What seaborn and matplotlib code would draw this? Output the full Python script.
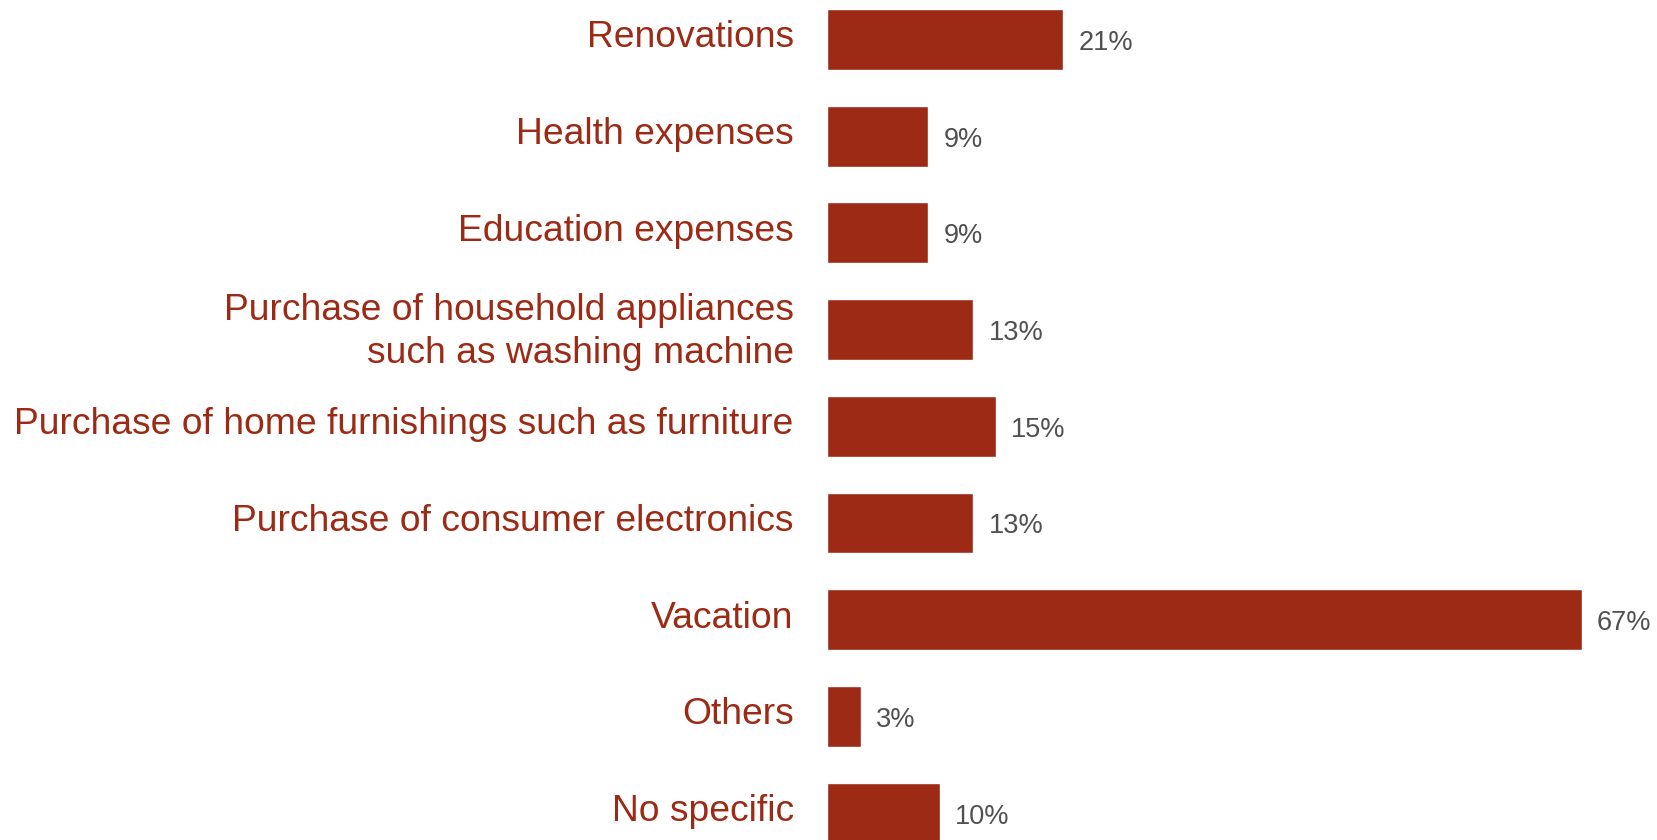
import matplotlib
matplotlib.use("Agg")
import matplotlib.pyplot as plt
import matplotlib.transforms as mtransforms
import seaborn as sns
import pandas as pd

# Chart data
categories = [
    "Renovations",
    "Health expenses",
    "Education expenses",
    "Purchase of household appliances\nsuch as washing machine",
    "Purchase of home furnishings such as furniture",
    "Purchase of consumer electronics",
    "Vacation",
    "Others",
    "No specific",
]
values = [21, 9, 9, 13, 15, 13, 67, 3, 10]

bar_color = "#9C2A14"
value_color = "#505050"

sns.set_style("white")
plt.rcParams["font.family"] = ["Liberation Sans", "DejaVu Sans"]

df = pd.DataFrame({"category": categories, "share": values})

fig = plt.figure(figsize=(16.57, 8.4), dpi=100)
ax = fig.add_axes([827 / 1657, 0, 1 - 827 / 1657, 1])

sns.barplot(data=df, x="share", y="category", color=bar_color,
            saturation=1, width=0.63, orient="h", ax=ax)

ax.set_xlim(0, 73.7)
ax.set_ylim(8.278, -0.408)

# value labels, sitting a touch below the bar centre
texts = ax.bar_label(ax.containers[0], fmt="%d%%", padding=11,
                     fontsize=19.5, color=value_color)
for t in texts:
    t.xyann = (t.xyann[0], t.xyann[1] - 2.5)

ax.set_xlabel("")
ax.set_ylabel("")
ax.set_xticks([])
ax.tick_params(axis="y", length=0, pad=24, labelsize=26.8, labelcolor=bar_color)
# nudge the category labels up a little, like the original slide
shift = mtransforms.ScaledTranslation(0, 4 / 72, fig.dpi_scale_trans)
for label in ax.get_yticklabels():
    label.set_horizontalalignment("right")
    label.set_multialignment("right")
    label.set_linespacing(1.3)
    label.set_transform(label.get_transform() + shift)
sns.despine(ax=ax, left=True, bottom=True)

fig.savefig("out.png", dpi=100)
